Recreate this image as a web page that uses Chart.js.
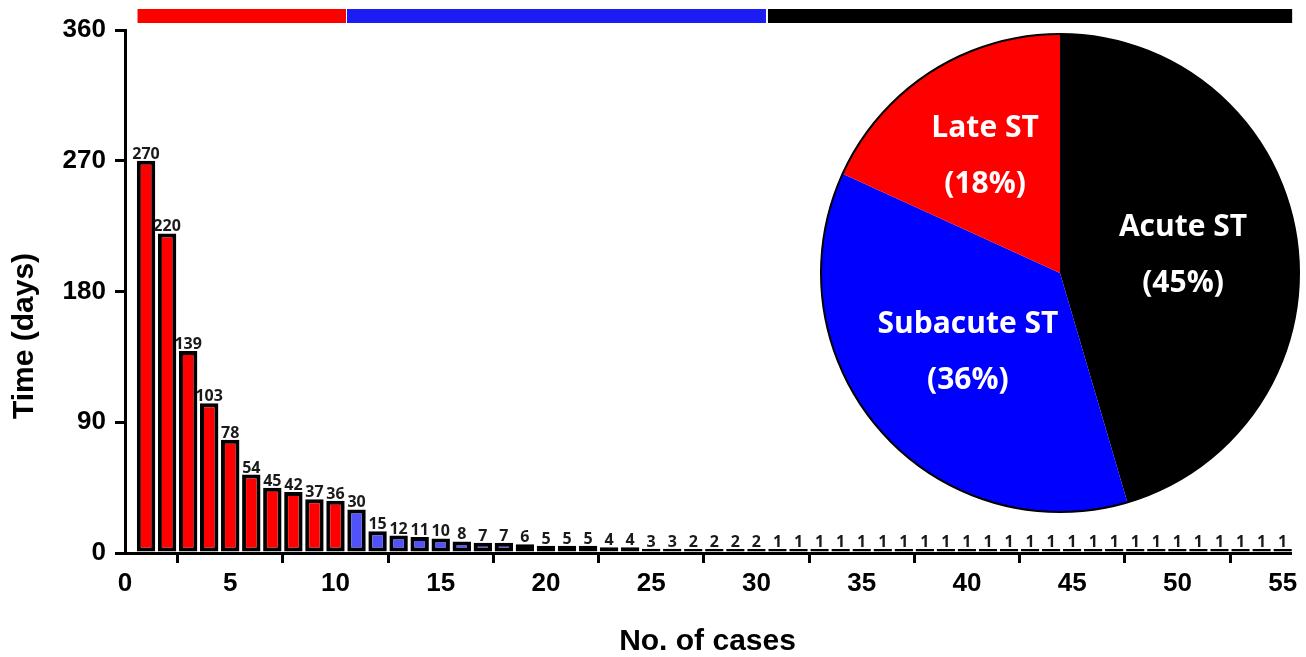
<!DOCTYPE html>
<html><head><meta charset="utf-8">
<script src="https://cdn.jsdelivr.net/npm/chart.js@4/dist/chart.umd.min.js"></script>
<style>
html,body{margin:0;padding:0;background:#fff;}
#wrap{position:relative;width:1306px;height:657px;overflow:hidden;}
#bar{position:absolute;left:0;top:0;}
#pie{position:absolute;left:820px;top:33px;}
</style>
</head><body>
<div id="wrap"><canvas id="bar" width="1306" height="657"></canvas><canvas id="pie" width="480" height="480"></canvas></div>
<script>
// ---- data ----
const caseNumbers = [1,2,3,4,5,6,7,8,9,10,11,12,13,14,15,16,17,18,19,20,21,22,23,24,25,26,27,28,29,30,31,32,33,34,35,36,37,38,39,40,41,42,43,44,45,46,47,48,49,50,51,52,53,54,55];
const timeDays = [270,220,139,103,78,54,45,42,37,36,30,15,12,11,10,8,7,7,6,5,5,5,4,4,3,3,2,2,2,2,1,1,1,1,1,1,1,1,1,1,1,1,1,1,1,1,1,1,1,1,1,1,1,1,1];
const groupNames = ['Late ST','Subacute ST','Acute ST'];
const groupCounts = [10,20,25];
const yTickValues = [0,90,180,270,360];
const xTickValues = [0,5,10,15,20,25,30,35,40,45,50,55];
const xTitle = 'No. of cases';
const yTitle = 'Time (days)';

// ---- styles ----
const barFill = ['#ff0000','#5252fa','#000000'];
const stripFill = ['#ff0000','#1c1cf5','#000000'];
const pieFill = {'Late ST':'#ff0000','Subacute ST':'#0000ff','Acute ST':'#000000'};
const pieLabelRadius = {'Late ST':0.58,'Subacute ST':0.51,'Acute ST':0.52};

function groupOf(n){ let acc=0; for(let g=0;g<groupCounts.length;g++){acc+=groupCounts[g]; if(n<=acc) return g;} return groupCounts.length-1; }

const barPoints = caseNumbers.map((c,i)=>({x:c,y:timeDays[i]}));
const barColors = caseNumbers.map(c=>barFill[groupOf(c)]);

const barLabelPlugin = {
  id:'barLabels',
  afterDatasetsDraw(chart){
    const ctx=chart.ctx, meta=chart.getDatasetMeta(0);
    ctx.save();
    ctx.font='700 16px "Open Sans"';
    ctx.fillStyle='#1a1a1a';
    ctx.textAlign='center'; ctx.textBaseline='alphabetic';
    meta.data.forEach((el,i)=>{ ctx.fillText(String(timeDays[i]), el.x, el.y-2); });
    ctx.restore();
  }
};
const stripPlugin = {
  id:'strip',
  afterDraw(chart){
    const ctx=chart.ctx, xs=chart.scales.x;
    let start=0;
    ctx.save();
    groupCounts.forEach((n,g)=>{
      const a=xs.getPixelForValue(start+0.5), b=xs.getPixelForValue(start+n+0.5);
      ctx.fillStyle=stripFill[g];
      ctx.fillRect(a+(g>0?1:2), 9, b-a-2, 14);
      start+=n;
    });
    ctx.restore();
  }
};
const yTitlePlugin = {
  id:'yTitle',
  afterDraw(chart){
    const ctx=chart.ctx;
    ctx.save();
    ctx.translate(25,336);
    ctx.rotate(-Math.PI/2);
    ctx.font='700 30px "Liberation Sans"';
    ctx.fillStyle='#000'; ctx.textAlign='center'; ctx.textBaseline='middle';
    ctx.fillText(yTitle,0,0);
    ctx.restore();
  }
};

const axisFont = {family:'"Liberation Sans", Arial, sans-serif', size:26, weight:'700'};

new Chart(document.getElementById('bar'),{
  type:'bar',
  data:{datasets:[{data:barPoints,backgroundColor:barColors,borderColor:'#000',borderWidth:4,borderSkipped:false,minBarLength:4,barPercentage:0.875,categoryPercentage:1.0,clip:false}]},
  options:{
    responsive:false, animation:false, devicePixelRatio:1,
    layout:{padding:{top:30,right:16,left:0,bottom:0}},
    plugins:{legend:{display:false},tooltip:{enabled:false}},
    scales:{
      x:{type:'linear',min:0,max:55.35,offset:false,
        afterBuildTicks(s){ s.ticks = xTickValues.map(v=>({value:v})); },
        afterFit(s){ s.height=104; },
        grid:{drawOnChartArea:false,drawTicks:true,tickLength:10,lineWidth:3,color:'#000'},
        border:{display:true,width:3,color:'#000'},
        ticks:{color:'#000',font:axisFont,padding:5,maxRotation:0,autoSkip:false},
        title:{display:true,text:xTitle,color:'#000',font:{family:'"Liberation Sans", Arial, sans-serif',size:30,weight:'700',lineHeight:1},padding:{top:0,bottom:0}}
      },
      y:{type:'linear',min:0,max:360,
        afterBuildTicks(s){ s.ticks = yTickValues.map(v=>({value:v})); },
        afterFit(s){ s.width=125; },
        grid:{drawOnChartArea:false,drawTicks:true,tickLength:10,lineWidth:3,color:'#000'},
        border:{display:true,width:3,color:'#000'},
        ticks:{color:'#000',font:axisFont,padding:9}
      }
    }
  },
  plugins:[barLabelPlugin,stripPlugin,yTitlePlugin]
});

// ---- pie ----
const pieOrder = ['Acute ST','Subacute ST','Late ST'];
const pieValues = pieOrder.map(n=>groupCounts[groupNames.indexOf(n)]);
const pieTotal = pieValues.reduce((a,b)=>a+b,0);

const pieLabelPlugin = {
  id:'pieLabels',
  afterDatasetsDraw(chart){
    const ctx=chart.ctx, meta=chart.getDatasetMeta(0);
    ctx.save();
    const a0=meta.data[0];
    ctx.beginPath(); ctx.arc(a0.x,a0.y,a0.outerRadius,0,Math.PI*2);
    ctx.lineWidth=2; ctx.strokeStyle='#000'; ctx.stroke();
    ctx.font='700 30px "Open Sans"';
    ctx.fillStyle='#fff'; ctx.textAlign='center'; ctx.textBaseline='middle';
    meta.data.forEach((arc,i)=>{
      const name=pieOrder[i];
      const mid=(arc.startAngle+arc.endAngle)/2;
      const r=arc.outerRadius*pieLabelRadius[name];
      const cx=arc.x+Math.cos(mid)*r, cy=arc.y+Math.sin(mid)*r;
      ctx.fillText(name,cx,cy-28);
      ctx.fillText('('+Math.round(pieValues[i]/pieTotal*100)+'%)',cx,cy+28);
    });
    ctx.restore();
  }
};

new Chart(document.getElementById('pie'),{
  type:'pie',
  data:{labels:pieOrder,datasets:[{data:pieValues,backgroundColor:pieOrder.map(n=>pieFill[n]),borderWidth:0}]},
  options:{responsive:false,animation:false,devicePixelRatio:1,layout:{padding:1},
    plugins:{legend:{display:false},tooltip:{enabled:false}}},
  plugins:[pieLabelPlugin]
});
</script>
</body></html>
